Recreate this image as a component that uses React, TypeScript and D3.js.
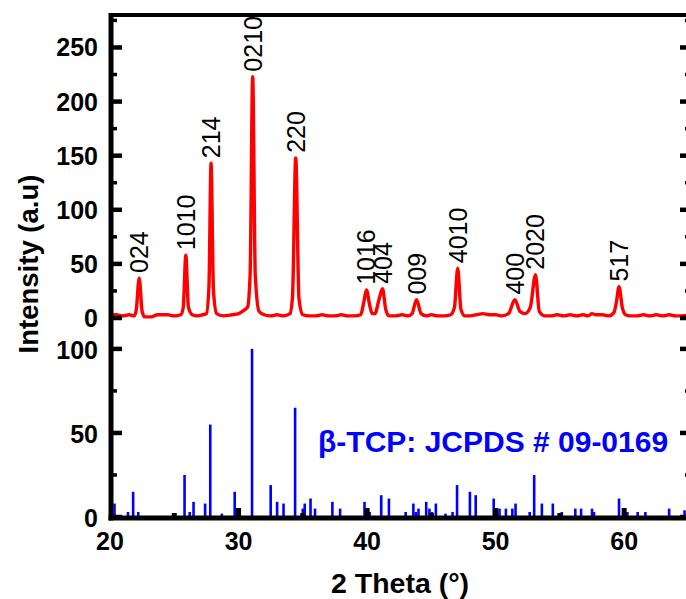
import React from "react";
import * as d3 from "d3";

// ---- Data ----
// Measured XRD pattern (2θ, intensity)
const patternTheta = [
  20.0, 20.5, 21.0, 21.5, 21.9, 22.05, 22.27, 22.5, 22.7, 23.2, 23.7, 24.5, 25.0, 25.5,
  25.7, 25.9, 26.1, 26.4, 26.8, 27.2, 27.5, 27.7, 27.86, 28.05, 28.3, 28.8, 29.5, 30.0,
  30.4, 30.7, 30.9, 31.1, 31.3, 31.6, 32.0, 32.5, 33.0, 33.5, 34.0, 34.2, 34.45, 34.7,
  35.0, 35.5, 36.0, 36.5, 37.0, 37.5, 38.0, 38.5, 39.0, 39.5, 39.75, 39.95, 40.2, 40.4,
  40.6, 40.95, 41.2, 41.45, 41.7, 42.2, 42.7, 43.2, 43.5, 43.85, 44.2, 44.6, 45.0, 45.5,
  46.0, 46.5, 46.8, 47.05, 47.3, 47.6, 48.0, 48.5, 49.0, 49.5, 50.0, 50.5, 51.0, 51.5,
  51.9, 52.3, 52.7, 53.1, 53.4, 53.8, 54.3, 54.8, 55.3, 55.8, 56.3, 56.8, 57.2, 57.5,
  57.8, 58.3, 58.8, 59.2, 59.4, 59.6, 59.85, 60.1, 60.5, 61.0, 61.5, 62.0, 62.5, 63.0,
  63.5, 64.0, 64.5, 65.2,
];
const patternIntensity = [
  3, 3, 2, 3, 2, 8, 37, 6, 1, 1, 3, 3, 2, 3,
  10, 58, 10, 3, 2, 3, 4, 30, 143, 25, 4, 2, 3, 4,
  7, 10, 40, 223, 40, 6, 3, 2, 3, 2, 4, 20, 148, 18,
  3, 2, 2, 3, 2, 2, 3, 2, 2, 3, 15, 26, 12, 4,
  4, 18, 27, 8, 2, 2, 3, 2, 4, 17, 4, 2, 3, 2,
  2, 3, 10, 46, 8, 2, 2, 3, 4, 3, 3, 2, 4, 17,
  6, 4, 10, 40, 6, 2, 2, 3, 2, 3, 2, 3, 2, 4,
  3, 3, 2, 5, 15, 29, 10, 3, 2, 2, 3, 2, 3, 2,
  3, 2, 2, 3,
];

// Peak labels (hkl) with position and peak height
const peakLabels = ["024", "1010", "214", "0210", "220", "1016", "404", "009", "4010", "400", "2020", "517"];
const peakTheta = [22.27, 25.9, 27.86, 31.1, 34.45, 39.95, 41.2, 43.85, 47.05, 51.5, 53.1, 59.6];
const peakHeight = [37, 58, 143, 223, 148, 26, 27, 17, 46, 17, 40, 29];

// JCPDS 09-0169 reference sticks
const stickTheta = [
  20.35, 21.4, 21.8, 22.2, 25.8, 26.2, 26.5, 27.4, 27.8, 28.7, 29.7, 31.05, 32.5, 33.0,
  33.5, 34.4, 35.0, 35.15, 35.6, 35.95, 37.3, 37.9, 39.8, 40.2, 41.1, 41.7, 43.0, 43.6,
  43.8, 44.0, 44.6, 44.85, 45.05, 45.35, 46.1, 46.65, 47.0, 48.0, 48.45, 49.85, 50.1, 50.3,
  50.8, 51.3, 51.55, 52.65, 53.0, 53.6, 54.45, 55.15, 56.2, 56.65, 57.5, 57.65, 59.6, 60.25,
  61.05, 61.65, 63.5, 64.7,
];
const stickIntensity = [
  8, 3, 15, 3, 25, 3, 9, 8, 55, 2, 15, 100, 19, 9,
  8, 65, 5, 8, 11, 5, 9, 5, 9, 3, 13, 11, 3, 8,
  3, 5, 9, 5, 3, 8, 2, 3, 19, 15, 13, 11, 3, 5,
  5, 5, 8, 3, 25, 8, 8, 3, 5, 5, 5, 3, 11, 3,
  3, 3, 5, 4,
];

const topTicks = [0, 50, 100, 150, 200, 250];
const topMinor = [25, 75, 125, 175, 225, 275];
const botTicks = [0, 50, 100];
const botMinor = [25, 75];
const xTicks = [20, 30, 40, 50, 60];
const xMinor = [25, 35, 45, 55, 65];

const legendText = "β-TCP: JCPDS # 09-0169";
const xTitle = "2 Theta (°)";
const yTitle = "Intensity (a.u)";

export default function App() {
  const W = 686;
  const H = 599;
  const axisX = 111;
  const rightX = 691;
  const topY = 15;
  const botY = 518;

  const x = d3.scaleLinear().domain([20, 65.2]).range([110, 691]);
  const yTop = d3.scaleLinear().domain([0, 280]).range([318, 15]);
  const yBot = d3.scaleLinear().domain([0, 116]).range([517, 322]);

  const pts: [number, number][] = patternTheta.map((t, i) => [t, patternIntensity[i]]);
  const line = d3
    .line<[number, number]>()
    .x((d) => x(d[0]))
    .y((d) => yTop(d[1]))
    .curve(d3.curveMonotoneX);

  const font = "'Liberation Sans', Arial, Helvetica, sans-serif";

  return (
    <svg width={W} height={H} style={{ position: "absolute", left: 0, top: 0 }} fontFamily={font}>
      <rect width={W} height={H} fill="#fff" />
      <defs>
        <clipPath id="plot">
          <rect x={axisX} y={topY} width={rightX - axisX} height={botY - topY} />
        </clipPath>
      </defs>

      {/* sticks */}
      <g clipPath="url(#plot)">
        {stickTheta.map((t, i) => (
          <line
            key={"s" + i}
            x1={x(t)}
            x2={x(t)}
            y1={yBot(0)}
            y2={yBot(stickIntensity[i])}
            stroke="#0000ff"
            strokeWidth={2.6}
          />
        ))}
        <path d={line(pts) || ""} fill="none" stroke="#ff0000" strokeWidth={3.4} strokeLinejoin="round" />
      </g>

      {/* peak labels */}
      {peakLabels.map((lab, i) => {
        const px = x(peakTheta[i]);
        const py = yTop(peakHeight[i]) - 5;
        return (
          <text
            key={"p" + i}
            transform={`translate(${px},${py}) rotate(-90)`}
            dy="0.36em"
            fontSize={25}
            fill="#000"
          >
            {lab}
          </text>
        );
      })}

      {/* legend */}
      <text x={318} y={452} fontSize={30} fontWeight="bold" fill="#0000ff">
        {legendText}
      </text>

      {/* frame */}
      <line x1={axisX} x2={rightX + 3} y1={topY} y2={topY} stroke="#000" strokeWidth={4} />
      <line x1={axisX} x2={axisX} y1={topY - 2} y2={botY + 2.5} stroke="#000" strokeWidth={5} />
      <line x1={rightX} x2={rightX} y1={topY - 2} y2={botY + 2.5} stroke="#000" strokeWidth={5} />
      <line x1={axisX - 2.5} x2={rightX + 3} y1={botY} y2={botY} stroke="#000" strokeWidth={5} />

      {/* y ticks top */}
      {topTicks.map((v) => (
        <g key={"tt" + v}>
          <line x1={axisX} x2={axisX + 11} y1={yTop(v)} y2={yTop(v)} stroke="#000" strokeWidth={4.5} />
          <line x1={rightX} x2={rightX - 11} y1={yTop(v)} y2={yTop(v)} stroke="#000" strokeWidth={4.5} />
          <text x={98} y={yTop(v)} dy="0.36em" textAnchor="end" fontSize={25} fontWeight="bold">
            {v}
          </text>
        </g>
      ))}
      {topMinor.map((v) => (
        <g key={"tm" + v}>
          <line x1={axisX} x2={axisX + 6} y1={yTop(v)} y2={yTop(v)} stroke="#000" strokeWidth={3.5} />
          <line x1={rightX} x2={rightX - 6} y1={yTop(v)} y2={yTop(v)} stroke="#000" strokeWidth={3.5} />
        </g>
      ))}
      {/* y ticks bottom */}
      {botTicks.map((v) => (
        <g key={"bt" + v}>
          <line x1={axisX} x2={axisX + 11} y1={yBot(v)} y2={yBot(v)} stroke="#000" strokeWidth={4.5} />
          <line x1={rightX} x2={rightX - 11} y1={yBot(v)} y2={yBot(v)} stroke="#000" strokeWidth={4.5} />
          <text x={98} y={yBot(v) + 1} dy="0.36em" textAnchor="end" fontSize={25} fontWeight="bold">
            {v}
          </text>
        </g>
      ))}
      {botMinor.map((v) => (
        <g key={"bm" + v}>
          <line x1={axisX} x2={axisX + 6} y1={yBot(v)} y2={yBot(v)} stroke="#000" strokeWidth={3.5} />
          <line x1={rightX} x2={rightX - 6} y1={yBot(v)} y2={yBot(v)} stroke="#000" strokeWidth={3.5} />
        </g>
      ))}

      {/* x ticks */}
      {xTicks.map((v) => (
        <g key={"xt" + v}>
          {v > 20 && (
            <line x1={x(v)} x2={x(v)} y1={botY} y2={botY - 10} stroke="#000" strokeWidth={5} />
          )}
          <text x={x(v)} y={541} dy="0.36em" textAnchor="middle" fontSize={25} fontWeight="bold">
            {v}
          </text>
        </g>
      ))}
      {xMinor.map((v) => (
        <line key={"xm" + v} x1={x(v)} x2={x(v)} y1={botY} y2={botY - 5} stroke="#000" strokeWidth={5} />
      ))}

      {/* axis titles */}
      <text x={400} y={583} dy="0.36em" textAnchor="middle" fontSize={28.5} fontWeight="bold">
        {xTitle}
      </text>
      <text
        transform={`translate(28,264) rotate(-90)`}
        dy="0.36em"
        textAnchor="middle"
        fontSize={27.5}
        fontWeight="bold"
      >
        {yTitle}
      </text>
    </svg>
  );
}
